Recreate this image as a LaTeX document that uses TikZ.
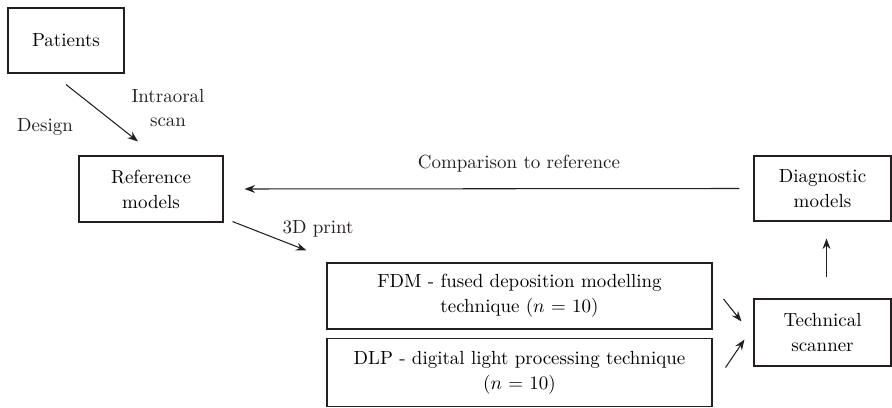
\documentclass[tikz,border=0pt]{standalone}
\usepackage{xcolor}
\usepackage{amsmath}
\usepackage{tikz}
\usetikzlibrary{arrows.meta, positioning, calc}
\definecolor{dark}{HTML}{231F20}
\tikzstyle{box}   = [rectangle, draw=dark, line width=0.6pt, align=center,
                     inner sep=0pt, font=\fontsize{10.8}{14.2}\selectfont]
\tikzstyle{lbl}   = [align=center, text=dark, inner sep=0pt,
                     font=\fontsize{10.8}{14.2}\selectfont]
\tikzstyle{arrow} = [-{Stealth[length=6pt, width=4.5pt, inset=2pt]},
                     line width=0.6pt, color=dark]

\begin{document}
\begin{tikzpicture}[x=0.02cm, y=-0.02cm]
  \useasboundingbox (0,0) rectangle (892,408);

  %% Boxes
  \node[box, minimum width=116*0.02cm, minimum height=65*0.02cm] (pat) at (66,40.5)
        {Patients};
  \node[box, minimum width=144*0.02cm, minimum height=66*0.02cm] (ref) at (151,189)
        {Reference\\models};
  \node[box, minimum width=137*0.02cm, minimum height=65*0.02cm] (diag) at (822.5,188.5)
        {Diagnostic\\models};
  \node[box, minimum width=385*0.02cm, minimum height=66*0.02cm] (fdm) at (519.5,296)
        {FDM - fused deposition modelling\\technique ($n$ = 10)};
  \node[box, minimum width=385*0.02cm, minimum height=68*0.02cm] (dlp) at (519.5,372.5)
        {DLP - digital light processing technique\\($n$ = 10)};
  \node[box, minimum width=137*0.02cm, minimum height=67*0.02cm] (tech) at (822.5,332.5)
        {Technical\\scanner};

  %% Labels
  \node[lbl] (design) at (45,127) {Design};
  \node[lbl] (scan) at (168,108) {Intraoral\\scan};
  \node[lbl] (cmp) at (519,164) {Comparison to reference};
  \node[lbl] (print) at (318,229) {3D print};

  %% Arrows
  \draw[arrow] ($(pat.south)+(0,11)$) -- ($(ref.north)+(-13,-14)$);
  \draw[arrow] ($(diag.west)+(-14,0)$) -- ($(ref.east)+(21,0)$);
  \draw[arrow] ($(ref.south east)+(9,-1)$) -- ($(fdm.north west)+(-20,-12)$);
  \draw[arrow] ($(fdm.east)+(11,3)$) -- ($(tech.west)+(-12,-11)$);
  \draw[arrow] ($(dlp.east)+(13,-5)$) -- ($(tech.west)+(-9,7)$);
  \draw[arrow] ($(tech.north)+(4,-21)$) -- ($(diag.south)+(4,17)$);

\end{tikzpicture}
\end{document}
